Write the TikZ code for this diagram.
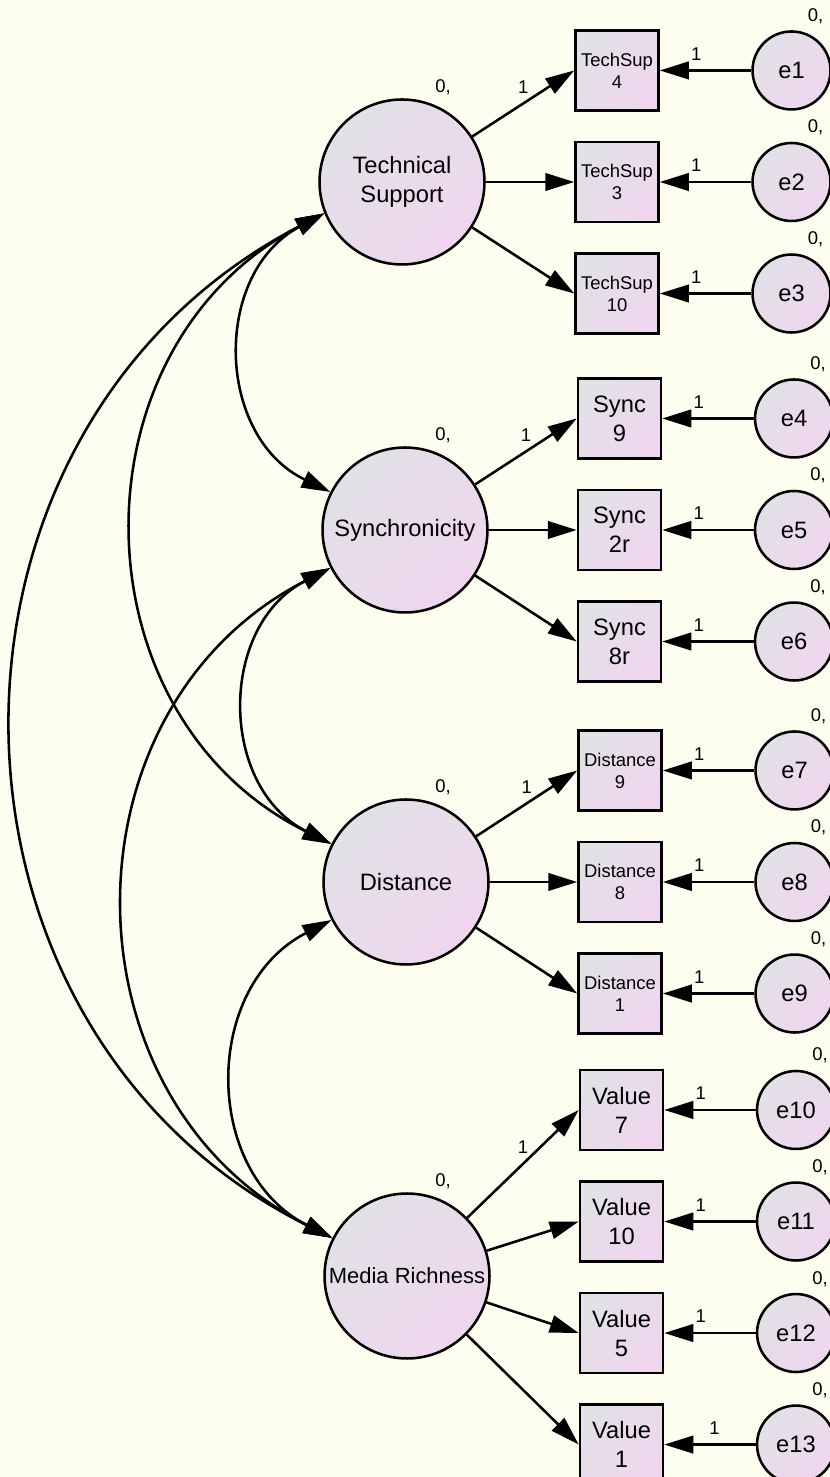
\documentclass[tikz,border=0pt]{standalone}
\usepackage{fontspec}
\setmainfont{Liberation Sans}
\usepackage{xcolor}
\usepackage{tikz}
\usetikzlibrary{arrows.meta,positioning}
\definecolor{paper}{RGB}{254,254,240}
\definecolor{fillgray}{RGB}{225,225,230}
\definecolor{fillpink}{RGB}{239,214,238}

\begin{document}
\begin{tikzpicture}[
            x=0.02cm, y=0.02cm,
            >={Triangle[length=0.58cm, width=0.35cm]},
            latent/.style={
                circle, draw, line width=1.45pt,
                minimum size=3.3cm, inner sep=0pt, align=center,
                top color=fillgray, bottom color=fillpink, shading angle=45,
                font=\fontsize{13.5}{16.5}\selectfont
            },
            obs/.style={
                rectangle, draw, line width=1.45pt,
                minimum width=1.66cm, minimum height=1.6cm, inner sep=0pt, align=center,
                top color=fillgray, bottom color=fillpink, shading angle=45,
                font=\fontsize{13.5}{16.5}\selectfont
            },
            obs_small/.style={obs, font=\fontsize{10.5}{12.5}\selectfont},
            err/.style={
                circle, draw, line width=1.45pt,
                minimum size=1.56cm, inner sep=0pt,
                top color=fillgray, bottom color=fillpink, shading angle=45,
                font=\fontsize{13.5}{16.5}\selectfont
            },
            lbl/.style={font=\fontsize{10.5}{12}\selectfont, inner sep=1pt},
            path_arrow/.style={->, line width=1.45pt},
            cov_arrow/.style={<->, line width=1.45pt, bend right=63, looseness=1.17}
        ]
        % Background
        \fill[paper] (0,0) rectangle (830,1477);
        \useasboundingbox (0,0) rectangle (830,1477);

        % Latent factors
        \node[latent] (TS) at (402,1295) {Technical\\Support};
        \node[latent] (SY) at (405,947) {Synchronicity};
        \node[latent] (DI) at (406,595) {Distance};
        \node[latent, font=\fontsize{12.5}{15}\selectfont] (MR) at (407,201) {Media Richness};
        \node[lbl] (zTS) at ([shift={(41,11)}]TS.north) {0,};
        \node[lbl] (zSY) at ([shift={(38,11)}]SY.north) {0,};
        \node[lbl] (zDI) at ([shift={(37,11)}]DI.north) {0,};
        \node[lbl] (zMR) at ([shift={(36,11)}]MR.north) {0,};

        % Indicators
        \node[obs_small, right=1.77cm of TS] (TS3) {TechSup\\3};
        \node[obs_small, above=0.58cm of TS3] (TS4) {TechSup\\4};
        \node[obs_small, below=0.58cm of TS3] (TS10) {TechSup\\10};

        \node[obs, right=1.76cm of SY] (SY2r) {Sync\\2r};
        \node[obs, above=0.58cm of SY2r] (SY9) {Sync\\9};
        \node[obs, below=0.58cm of SY2r] (SY8r) {Sync\\8r};

        \node[obs_small, right=1.75cm of DI] (DI8) {Distance\\8};
        \node[obs_small, above=0.58cm of DI8] (DI9) {Distance\\9};
        \node[obs_small, below=0.58cm of DI8] (DI1) {Distance\\1};

        \node[obs, right=1.76cm of MR, yshift=1.09cm] (MR10) {Value\\10};
        \node[obs, above=0.58cm of MR10] (MR7) {Value\\7};
        \node[obs, below=0.58cm of MR10] (MR5) {Value\\5};
        \node[obs, below=0.58cm of MR5] (MR1) {Value\\1};

        % Error terms
        \node[err, right=1.83cm of TS4] (e1) {e1};
        \node[err, right=1.83cm of TS3] (e2) {e2};
        \node[err, right=1.83cm of TS10] (e3) {e3};
        \node[err, right=1.83cm of SY9] (e4) {e4};
        \node[err, right=1.83cm of SY2r] (e5) {e5};
        \node[err, right=1.83cm of SY8r] (e6) {e6};
        \node[err, right=1.83cm of DI9] (e7) {e7};
        \node[err, right=1.83cm of DI8] (e8) {e8};
        \node[err, right=1.83cm of DI1] (e9) {e9};
        \node[err, right=1.83cm of MR7] (e10) {e10};
        \node[err, right=1.83cm of MR10] (e11) {e11};
        \node[err, right=1.83cm of MR5] (e12) {e12};
        \node[err, right=1.83cm of MR1] (e13) {e13};
        \node[lbl] (z1) at ([shift={(24,14)}]e1.north) {0,};
        \node[lbl] (z2) at ([shift={(24,14)}]e2.north) {0,};
        \node[lbl] (z3) at ([shift={(24,14)}]e3.north) {0,};
        \node[lbl] (z4) at ([shift={(24,14)}]e4.north) {0,};
        \node[lbl] (z5) at ([shift={(24,14)}]e5.north) {0,};
        \node[lbl] (z6) at ([shift={(24,14)}]e6.north) {0,};
        \node[lbl] (z7) at ([shift={(24,14)}]e7.north) {0,};
        \node[lbl] (z8) at ([shift={(24,14)}]e8.north) {0,};
        \node[lbl] (z9) at ([shift={(24,14)}]e9.north) {0,};
        \node[lbl] (z10) at ([shift={(24,14)}]e10.north) {0,};
        \node[lbl] (z11) at ([shift={(24,14)}]e11.north) {0,};
        \node[lbl] (z12) at ([shift={(24,14)}]e12.north) {0,};
        \node[lbl] (z13) at ([shift={(24,14)}]e13.north) {0,};

        % Loadings
        \draw[path_arrow] (TS) -- node[lbl, midway, above=4pt] (lTS) {1} (TS4.west);
        \draw[path_arrow] (TS) -- (TS3);
        \draw[path_arrow] (TS) -- (TS10.west);
        \draw[path_arrow] (SY) -- node[lbl, midway, above=4pt] (lSY) {1} (SY9.west);
        \draw[path_arrow] (SY) -- (SY2r);
        \draw[path_arrow] (SY) -- (SY8r.west);
        \draw[path_arrow] (DI) -- node[lbl, midway, above=4pt] (lDI) {1} (DI9.west);
        \draw[path_arrow] (DI) -- (DI8);
        \draw[path_arrow] (DI) -- (DI1.west);
        \draw[path_arrow] (MR) -- node[lbl, midway, above=4pt] (lMR) {1} (MR7.west);
        \draw[path_arrow] (MR) -- (MR10.west);
        \draw[path_arrow] (MR) -- (MR5.west);
        \draw[path_arrow] (MR) -- (MR1.west);

        % Error paths
        \draw[path_arrow] (e1) -- node[lbl, pos=0.6, above=4pt] (o1) {1} (TS4);
        \draw[path_arrow] (e2) -- node[lbl, pos=0.6, above=4pt] (o2) {1} (TS3);
        \draw[path_arrow] (e3) -- node[lbl, pos=0.6, above=4pt] (o3) {1} (TS10);
        \draw[path_arrow] (e4) -- node[lbl, pos=0.6, above=4pt] (o4) {1} (SY9);
        \draw[path_arrow] (e5) -- node[lbl, pos=0.6, above=4pt] (o5) {1} (SY2r);
        \draw[path_arrow] (e6) -- node[lbl, pos=0.6, above=4pt] (o6) {1} (SY8r);
        \draw[path_arrow] (e7) -- node[lbl, pos=0.6, above=4pt] (o7) {1} (DI9);
        \draw[path_arrow] (e8) -- node[lbl, pos=0.6, above=4pt] (o8) {1} (DI8);
        \draw[path_arrow] (e9) -- node[lbl, pos=0.6, above=4pt] (o9) {1} (DI1);
        \draw[path_arrow] (e10) -- node[lbl, pos=0.6, above=4pt] (o10) {1} (MR7);
        \draw[path_arrow] (e11) -- node[lbl, pos=0.6, above=4pt] (o11) {1} (MR10);
        \draw[path_arrow] (e12) -- node[lbl, pos=0.6, above=4pt] (o12) {1} (MR5);
        \draw[path_arrow] (e13) -- node[lbl, pos=0.45, above=4pt] (o13) {1} (MR1);

        % Covariances
        \draw[cov_arrow] (TS.202) to (SY.153);
        \draw[cov_arrow] (SY.207) to (DI.153);
        \draw[cov_arrow] (DI.207) to (MR.153);
        \draw[cov_arrow] (TS.202) to (DI.153);
        \draw[cov_arrow] (SY.207) to (MR.153);
        \draw[cov_arrow] (TS.202) to (MR.153);
        \end{tikzpicture}
\end{document}
